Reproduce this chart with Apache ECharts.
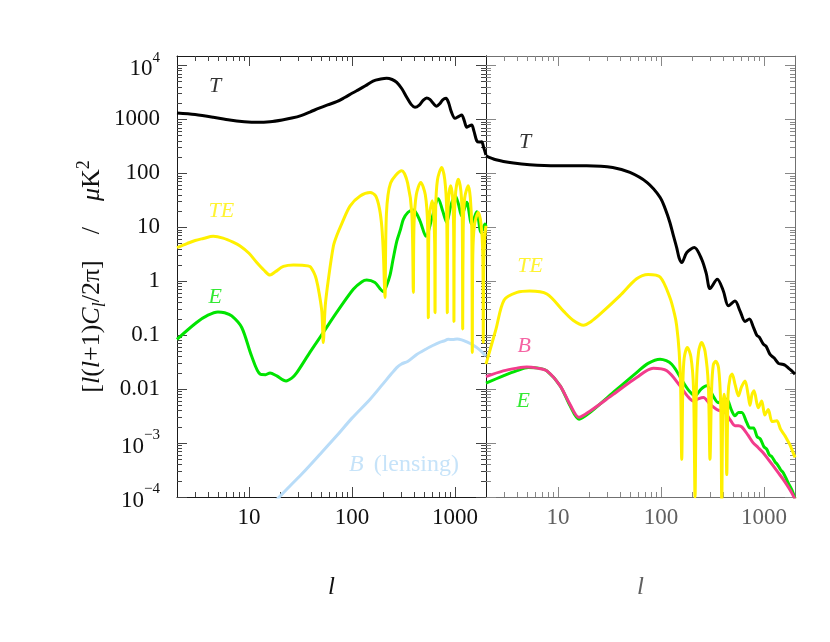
<!DOCTYPE html>
<html><head><meta charset="utf-8">
<script src="https://cdn.jsdelivr.net/npm/echarts@6/dist/echarts.min.js"></script>
<style>html,body{margin:0;padding:0;background:#fff}#c{width:830px;height:642px}</style>
</head><body><div id="c"></div>
<script>
// ---------- data: [l, value] ----------
const tLeft = [[2,1310],[3,1230],[4.5,1100],[6.5,975],[9,910],[12,884],[16,905],[21,975],[26,1060],[32,1180],[39,1371],[48,1620],[58,1860],[71,2128],[85,2550],[100,3050],[111,3400],[135,4200],[160,5150],[190,5600],[217,5790],[245,5500],[272,4880],[305,3700],[340,2570],[375,1900],[409,1680],[450,1850],[490,2250],[531,2500],[570,2350],[620,1950],[664,1750],[710,1950],[760,2300],[818,2460],[870,2000],[920,1400],[1000,1050],[1080,1130],[1161,1210],[1230,950],[1300,713],[1380,760],[1453,787],[1530,600],[1625,403],[1720,380],[1816,386],[1900,300],[2000,219]];
const teLeft = [[2,4.2],[2.5,5.0],[3,5.7],[3.6,6.2],[4.5,6.8],[5.6,6.3],[7,5.3],[8.2,4.5],[10,3.3],[11.9,2.23],[14,1.6],[16,1.3],[18,1.5],[21.6,1.88],[27,2.0],[33,1.97],[39,1.88],[43,1.4],[45,1.09],[48,0.6],[51,0.27],[52.6,0.073],[55,0.35],[59,1.09],[66,4.5],[71,6.95],[80,12],[96,25],[120,38],[150,44],[170,38],[185,22],[195,10],[202,3],[209,0.5],[216,18],[237,66],[304,112],[347,66],[381,18],[394,0.62],[400,11],[421,40],[465,68],[515,40],[542,11],[551,0.21],[555,5],[568,18],[603,31],[621,18],[635,5],[640,0.26],[649,21],[676,76],[743,129],[796,76],[830,21],[842,0.26],[848,9.4],[867,35],[908,59],[948,35],[970,9.4],[977,0.18],[986,12.5],[1016,46],[1076,78],[1143,46],[1177,12.5],[1188,0.13],[1202,9.4],[1242,35],[1346,59],[1409,35],[1455,9.4],[1472,0.048],[1489,3],[1545,11],[1683,19],[1795,11],[1862,3],[1883,0.073],[1900,2],[1940,6],[2000,10.7]];
const eLeft = [[2,0.084],[3.1,0.172],[4,0.235],[5,0.27],[5.8,0.26],[6.8,0.228],[8.5,0.139],[10.6,0.041],[12.8,0.019],[14.5,0.0185],[16,0.020],[18.6,0.0176],[22.9,0.0142],[26,0.016],[29,0.020],[39,0.048],[52.6,0.112],[71,0.264],[103,0.71],[125,0.98],[139,1.05],[167,0.95],[185,0.75],[201,0.64],[215,0.8],[234,1.3],[250,2.5],[272,5.5],[295,9],[315,14],[350,19],[394,21],[457,13.2],[523,6.8],[594,14.2],[689,34],[760,20],[831,12.3],[910,25],[1000,39.5],[1080,27],[1161,16.3],[1300,29],[1453,11.5],[1625,19.4],[1791,8],[1959,11.5],[2000,10.5]];
const bLensLeft = [[18,8.5e-5],[19.7,1e-4],[25,1.6e-4],[33.6,2.84e-4],[50,6.5e-4],[71,1.36e-3],[100,2.9e-3],[150,6.5e-3],[200,0.0125],[240,0.019],[272,0.025],[300,0.029],[350,0.033],[425,0.044],[520,0.055],[615,0.065],[700,0.073],[780,0.078],[861,0.084],[950,0.083],[1050,0.085],[1161,0.082],[1300,0.075],[1507,0.065],[1750,0.053],[2000,0.041]];

const tRight = [[2,212],[2.5,179],[3.7,155],[5.3,144],[9.7,138],[19,138],[34,129],[50,104],[73,68],[98,36],[110,22],[122,12.3],[132,7],[142,4.2],[150,2.7],[159,2.23],[178,3.42],[211,4.24],[248,2.57],[275,1.4],[299,0.73],[352,1.09],[403,0.66],[451,0.35],[523,0.43],[586,0.28],[655,0.18],[721,0.20],[790,0.14],[851,0.10],[900,0.092],[986,0.068],[1050,0.062],[1145,0.044],[1250,0.038],[1380,0.030],[1500,0.029],[1603,0.0277],[1750,0.024],[1850,0.022],[2000,0.019]];
const teRight = [[2,0.029],[2.5,0.13],[3,0.45],[4,0.62],[5.3,0.66],[7.8,0.58],[11.3,0.28],[14,0.19],[17.7,0.153],[21,0.18],[25.6,0.245],[40,0.54],[58,1.11],[75,1.34],[98,1.2],[122,0.5],[135,0.25],[142,0.149],[150,0.05],[155,0.012],[159,5e-4],[163,0.012],[168,0.038],[180,0.059],[195,0.04],[207,0.01],[214,1e-4],[221,0.012],[232,0.05],[248,0.073],[268,0.05],[288,0.012],[299,5e-4],[310,0.01],[322,0.028],[340,0.033],[362,0.025],[380,0.005],[389,8e-5],[398,0.004],[410,0.008],[425,0.004],[435,2.6e-4],[448,0.008],[470,0.017],[490,0.019],[525,0.012],[565,0.0075],[605,0.011],[655,0.0142],[700,0.008],[731,0.005],[765,0.008],[800,0.0093],[880,0.0045],[950,0.006],[1020,0.0033],[1100,0.0042],[1200,0.0025],[1330,0.0026],[1450,0.0018],[1600,0.00136],[1700,0.0011],[1800,0.0009],[2000,0.00054]];
const eRight = [[2,0.0129],[2.94,0.0176],[4,0.022],[5.15,0.0251],[6.5,0.0245],[7.8,0.0218],[10.5,0.0115],[13.1,0.0049],[16,0.00277],[20.4,0.00368],[34.4,0.0087],[58,0.0203],[75,0.030],[98,0.0359],[127,0.029],[165,0.0132],[190,0.009],[214,0.0075],[245,0.010],[278,0.0115],[320,0.0075],[360,0.0056],[400,0.0064],[435,0.0065],[480,0.0042],[523,0.0032],[565,0.0037],[608,0.0037],[680,0.0024],[731,0.0019],[790,0.0019],[860,0.0013],[920,0.0012],[1000,8.5e-4],[1062,7.7e-4],[1130,6e-4],[1190,5.6e-4],[1279,4.5e-4],[1350,4.0e-4],[1450,3.2e-4],[1542,2.8e-4],[1700,1.9e-4],[1850,1.4e-4],[2000,9.5e-5]];
const bRight = [[2,0.0171],[2.94,0.0218],[4,0.0245],[4.97,0.0258],[6.3,0.0245],[7.8,0.0218],[10.5,0.0115],[13.1,0.0052],[16,0.0030],[20.4,0.0039],[34.4,0.0080],[58,0.0164],[84,0.0244],[114,0.0218],[153,0.0115],[180,0.0075],[206,0.0060],[230,0.0066],[258,0.0070],[300,0.0052],[348,0.0042],[385,0.0039],[419,0.0037],[470,0.0027],[523,0.0021],[565,0.0021],[608,0.0020],[700,0.0014],[782,0.00102],[880,8.2e-4],[977,6.7e-4],[1100,5.0e-4],[1230,3.76e-4],[1380,2.8e-4],[1542,2.1e-4],[1750,1.45e-4],[1928,1.05e-4],[2000,9e-5]];

// annotations: [l, value, text]
const annotLeft = [[4.7,4110,'T'],[5.4,20.2,'TE'],[4.7,0.5,'E'],[320,4.05e-4,'B (lensing)']];
const annotRight = [[4.8,376,'T'],[5.35,1.93,'TE'],[4.7,0.063,'B'],[4.6,0.006,'E']];

// axes ticks / labels
const xMajor = [10,100,1000];
const xLabels = ['10','100','1000'];
const xMinor = [3,4,5,6,7,8,9,20,30,40,50,60,70,80,90,200,300,400,500,600,700,800,900];
const yMajor = [1e-4,1e-3,0.01,0.1,1,10,100,1000,1e4];
const yLabels = ['10^-4','10^-3','0.01','0.1','1','10','100','1000','10^4'];
const yMinor = [];
for (let e=-4; e<=3; e++) for (let m=2; m<=9; m++) yMinor.push(+(m*Math.pow(10,e)).toPrecision(3));

// ---------- styles ----------
const FONT = '"Liberation Serif","DejaVu Serif",serif';
const DARK = '#1a1a1a', GRAY = '#707070';
const COL = {T:'#000000', TE:'#fff000', E:'#00e400', BL:'#b8dcf8', B:'#f23c8c'};
const X_MIN=2, X_MAX=2000, Y_MIN=1e-4, Y_MAX=15000;

function xLab(v){ const e=Math.round(Math.log10(v)); return xLabels[e-1] || ''; }
function yLab(v){ const e=Math.round(Math.log10(v)); const s=yLabels[e+4]||''; if(s.indexOf('^')>=0){const p=s.split('^'); return '{b|'+p[0]+'}{s|'+p[1].replace('-','\u2212')+'}';} return s; }

function xAxes(gi, frameCol, tickCol, labCol){
  const base = {type:'log', logBase:10, gridIndex:gi, min:X_MIN, max:X_MAX,
    splitLine:{show:false}, minorTick:{show:false}, minorSplitLine:{show:false}};
  return [
    Object.assign({}, base, {position:'bottom',
      axisLine:{show:true,onZero:false,lineStyle:{color:frameCol,width:1}},
      axisTick:{show:true,inside:true,length:10,customValues:xMajor,lineStyle:{color:tickCol,width:1}},
      axisLabel:{show:true,customValues:xMajor,formatter:xLab,margin:9,color:labCol,fontSize:23,fontFamily:FONT},
      name:'l', nameLocation:'middle', nameGap:78,
      nameTextStyle:{fontSize:25,fontStyle:'italic',fontFamily:FONT,color:labCol}}),
    Object.assign({}, base, {position:'bottom', axisLine:{show:false},
      axisTick:{show:true,inside:true,length:5,customValues:xMinor,lineStyle:{color:tickCol,width:1}},
      axisLabel:{show:false}}),
    Object.assign({}, base, {position:'top',
      axisLine:{show:true,onZero:false,lineStyle:{color:frameCol,width:1}},
      axisTick:{show:true,inside:true,length:10,customValues:xMajor,lineStyle:{color:tickCol,width:1}},
      axisLabel:{show:false}}),
    Object.assign({}, base, {position:'top', axisLine:{show:false},
      axisTick:{show:true,inside:true,length:5,customValues:xMinor,lineStyle:{color:tickCol,width:1}},
      axisLabel:{show:false}})
  ];
}
function yAxes(gi, leftCol, rightCol, tickCol, withLabels){
  const base = {type:'log', logBase:10, gridIndex:gi, min:Y_MIN, max:Y_MAX,
    splitLine:{show:false}, minorTick:{show:false}, minorSplitLine:{show:false}};
  const main = Object.assign({}, base, {position:'left',
      axisLine:{show:true,onZero:false,lineStyle:{color:leftCol,width:1}},
      axisTick:{show:true,inside:true,length:10,customValues:yMajor,lineStyle:{color:tickCol,width:1}},
      axisLabel: withLabels ? {show:true,customValues:yMajor,formatter:yLab,margin:17,color:'#111',fontSize:23,fontFamily:FONT,
        rich:{b:{fontSize:23,fontFamily:FONT,color:'#111',lineHeight:30,verticalAlign:'bottom'},
              s:{fontSize:15,fontFamily:FONT,color:'#111',lineHeight:15,verticalAlign:'top'}}} : {show:false}});
  if (withLabels){
    Object.assign(main, {name:'{r|[}{i|l}{r|(}{i|l}{r|+1)}{i|C}{sb|l}{r|/2\u03c0]    /    }{i|\u03bc}{r|K}{sp|2}',
      nameLocation:'middle', nameRotate:90, nameGap:68,
      nameTextStyle:{fontSize:26,fontFamily:FONT,color:'#111',rich:{
        r:{fontSize:26,fontFamily:FONT,color:'#111',lineHeight:34,verticalAlign:'middle'},
        i:{fontSize:26,fontFamily:FONT,fontStyle:'italic',color:'#111',lineHeight:34,verticalAlign:'middle'},
        sb:{fontSize:18,fontFamily:FONT,fontStyle:'italic',color:'#111',lineHeight:24,verticalAlign:'bottom'},
        sp:{fontSize:18,fontFamily:FONT,color:'#111',lineHeight:19,verticalAlign:'top'}}}});
  }
  return [
    main,
    Object.assign({}, base, {position:'left', axisLine:{show:false},
      axisTick:{show:true,inside:true,length:5,customValues:yMinor,lineStyle:{color:tickCol,width:1}},
      axisLabel:{show:false}}),
    Object.assign({}, base, {position:'right',
      axisLine:{show:true,onZero:false,lineStyle:{color:rightCol,width:1}},
      axisTick:{show:true,inside:true,length:10,customValues:yMajor,lineStyle:{color:tickCol,width:1}},
      axisLabel:{show:false}}),
    Object.assign({}, base, {position:'right', axisLine:{show:false},
      axisTick:{show:true,inside:true,length:5,customValues:yMinor,lineStyle:{color:tickCol,width:1}},
      axisLabel:{show:false}})
  ];
}

function line(gi, data, color, z){
  return {type:'line', xAxisIndex:gi*4, yAxisIndex:gi*4, data:data, symbol:'none', showSymbol:false,
    smooth:0.3, clip:true, lineStyle:{color:color,width:3}, itemStyle:{color:color}, z:z, silent:true};
}
const annColor = {'T':COL.T,'TE':COL.TE,'E':COL.E,'B':COL.B,'B (lensing)':COL.BL};
function annot(gi, arr){
  return {type:'scatter', xAxisIndex:gi*4, yAxisIndex:gi*4, symbolSize:1, z:20, silent:true,
    itemStyle:{color:'rgba(0,0,0,0)'},
    data: arr.map(a=>({value:[a[0],a[1]], name:a[2],
      label:{show:true, position:'inside', color:annColor[a[2]],
        formatter: a[2]==='B (lensing)' ? '{i|B}   {r|(lensing)}' : '{i|'+a[2]+'}',
        rich:{i:{fontSize:a[2]==='B (lensing)'?24:22,fontStyle:'italic',fontFamily:FONT,color:annColor[a[2]]},
              r:{fontSize:24,fontFamily:FONT,color:annColor[a[2]]}}}}))};
}

const chart = echarts.init(document.getElementById('c'), null, {renderer:'canvas'});
chart.setOption({
  animation:false,
  backgroundColor:'#ffffff',
  grid:[
    {left:177, top:56, width:309, height:441, outerBoundsMode:'none', containLabel:false},
    {left:486, top:56, width:309, height:441, outerBoundsMode:'none', containLabel:false}
  ],
  xAxis: xAxes(0, DARK, '#444', '#111').concat(xAxes(1, GRAY, '#888', '#606060')),
  yAxis: yAxes(0, DARK, DARK, '#444', true).concat(yAxes(1, DARK, GRAY, '#888', false)),
  series:[
    line(0, bLensLeft, COL.BL, 2),
    line(0, eLeft, COL.E, 3),
    line(0, teLeft, COL.TE, 4),
    line(0, tLeft, COL.T, 5),
    line(1, eRight, COL.E, 3),
    line(1, bRight, COL.B, 4),
    line(1, teRight, COL.TE, 5),
    line(1, tRight, COL.T, 6),
    annot(0, annotLeft),
    annot(1, annotRight)
  ]
});
</script>
</body></html>
